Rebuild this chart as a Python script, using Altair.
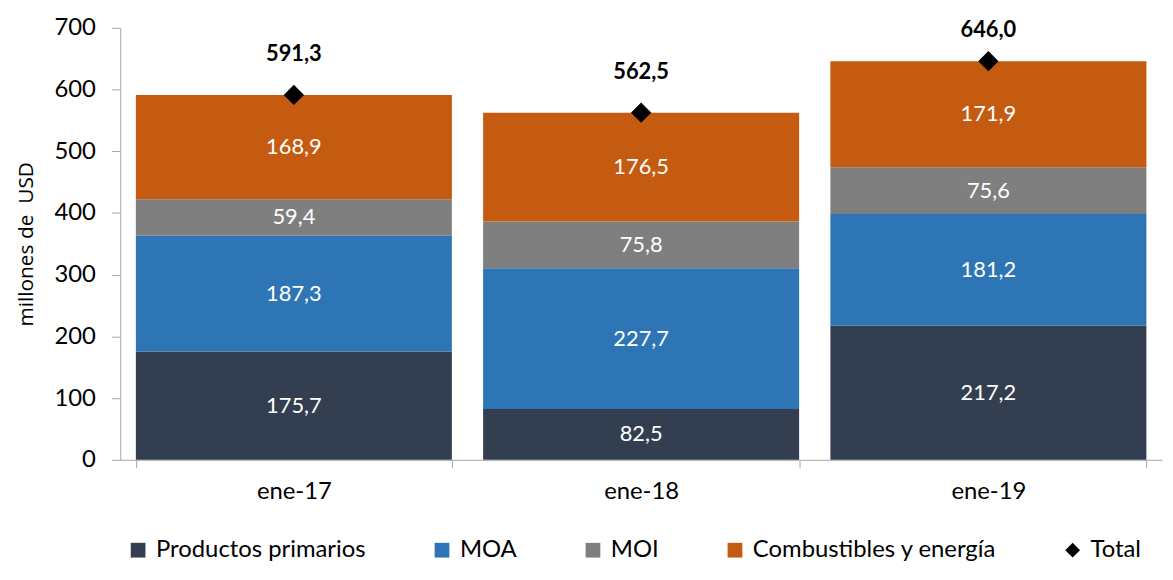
import altair as alt
import pandas as pd

periods = ["ene-17", "ene-18", "ene-19"]
series = ["Productos primarios", "MOA", "MOI", "Combustibles y energía"]
productos = [175.7, 82.5, 217.2]
moa = [187.3, 227.7, 181.2]
moi = [59.4, 75.8, 75.6]
combustibles = [168.9, 176.5, 171.9]
totals = [591.3, 562.5, 646.0]
colors = ["#333F50", "#2E75B6", "#7F7F7F", "#C55A11"]
y_ticks = [0, 100, 200, 300, 400, 500, 600, 700]


def fmt(v):
    return f"{v:.1f}".replace(".", ",")


rows = []
for i, p in enumerate(periods):
    for j, (s, vals) in enumerate(zip(series, [productos, moa, moi, combustibles])):
        rows.append({"periodo": p, "serie": s, "orden": j, "valor": vals[i], "etiqueta": fmt(vals[i])})
df = pd.DataFrame(rows)
tot = pd.DataFrame({"periodo": periods, "total": totals,
                    "etiqueta": [fmt(v) for v in totals], "serie": ["Total"] * 3})

FONT = "Lato"
AX = "#A6A6A6"

x = alt.X("periodo:N", sort=periods, title=None,
          scale=alt.Scale(paddingInner=0.09, paddingOuter=0.045),
          axis=alt.Axis(labelAngle=0, labelFontSize=24, labelPadding=12, tickBand="extent",
                        domainColor=AX, tickColor=AX, tickSize=8, labelColor="black"))

yscale = alt.Scale(domain=[0, 700], nice=False)

moi_pad = "MOI" + "\u00a0" * 8

bars = alt.Chart(df).mark_bar().encode(
    x=x,
    y=alt.Y("valor:Q", stack="zero", scale=yscale, title="millones de\u00a0 USD",
            axis=alt.Axis(values=y_ticks, grid=False, tickSize=9, labelPadding=16,
                          labelFontSize=24, labelColor="black", domainColor=AX, tickColor=AX,
                          titleFont="Open Sans", titleFontSize=21, titleFontWeight="normal",
                          titleColor="black", titlePadding=18)),
    color=alt.Color("serie:N", scale=alt.Scale(domain=series, range=colors),
                    legend=alt.Legend(orient="none", legendX=6, legendY=514, direction="horizontal",
                                      title=None, symbolType="square", symbolSize=220,
                                      symbolStrokeWidth=0, labelFontSize=24, labelColor="black",
                                      labelLimit=400, columnPadding=64, labelOffset=6,
                                      labelExpr=f"datum.label == 'MOI' ? '{moi_pad}' : datum.label")),
    order=alt.Order("orden:Q"),
)

labels = alt.Chart(df).transform_stack(
    stack="valor", groupby=["periodo"], as_=["y0", "y1"], sort=[alt.SortField("orden")]
).transform_calculate(mid="(datum.y0 + datum.y1) / 2").mark_text(
    color="white", fontSize=22, baseline="middle"
).encode(x=x, y=alt.Y("mid:Q", scale=yscale), text="etiqueta:N")

points = alt.Chart(tot).mark_point(shape="diamond", filled=True, size=420, color="black", opacity=1).encode(
    x=x, y=alt.Y("total:Q", scale=yscale),
    shape=alt.Shape("serie:N", scale=alt.Scale(domain=["Total"], range=["diamond"]),
                    legend=alt.Legend(orient="none", legendX=947, legendY=514, title=None,
                                      symbolSize=220, symbolFillColor="black", symbolStrokeWidth=0,
                                      labelFontSize=24, labelColor="black", labelOffset=6)),
)

tot_text = alt.Chart(tot).transform_calculate(
    ly="min(datum.total + 66, 697)"
).mark_text(fontSize=22, fontWeight="bold", color="black", baseline="middle").encode(
    x=x, y=alt.Y("ly:Q", scale=yscale), text="etiqueta:N")

chart = alt.layer(bars, labels, points, tot_text).properties(
    width=1049, height=435,
    autosize=alt.AutoSizeParams(type="none"),
    padding={"left": 113, "top": 18, "right": 3, "bottom": 108},
).configure(font=FONT).configure_view(stroke=None)

chart.save("out.html", embed_options={"renderer": "svg", "actions": False})
